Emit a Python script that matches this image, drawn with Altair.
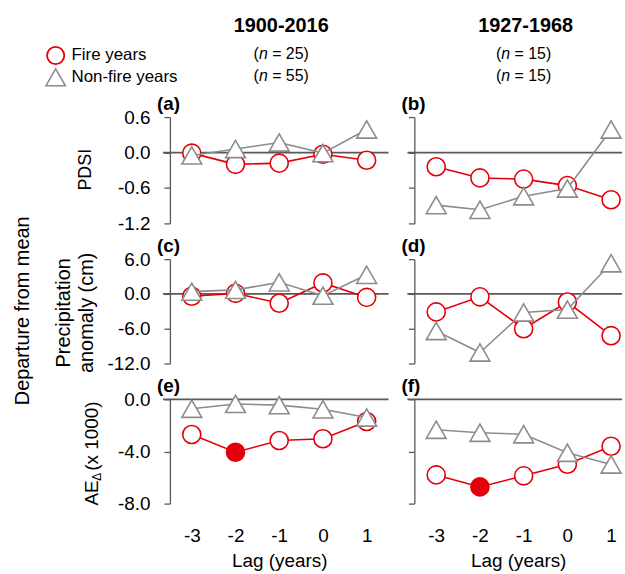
import altair as alt
import pandas as pd

# ---------------- data ----------------
lags = [-3, -2, -1, 0, 1]
periods = ["1900-2016", "1927-1968"]
n_fire = [25, 15]
n_nonfire = [55, 15]
series_names = ["Fire years", "Non-fire years"]
panel_labels = ["(a)", "(b)", "(c)", "(d)", "(e)", "(f)"]

# PDSI
pdsi_fire_all = [-0.01, -0.20, -0.18, -0.03, -0.13]
pdsi_nonfire_all = [-0.05, 0.06, 0.17, -0.01, 0.39]
pdsi_fire_sub = [-0.24, -0.43, -0.45, -0.56, -0.80]
pdsi_nonfire_sub = [-0.89, -0.97, -0.74, -0.61, 0.39]
# Precipitation anomaly (cm)
prec_fire_all = [-0.4, 0.1, -1.6, 1.9, -0.6]
prec_nonfire_all = [0.4, 0.7, 2.0, -0.3, 3.3]
prec_fire_sub = [-3.1, -0.5, -6.0, -1.4, -7.2]
prec_nonfire_sub = [-6.4, -10.1, -3.2, -2.7, 5.3]
# AE delta (x 1000)
ae_fire_all = [-2.7, -4.06, -3.16, -3.03, -1.7]
ae_nonfire_all = [-0.73, -0.36, -0.45, -0.77, -1.4]
ae_fire_sub = [-5.8, -6.72, -5.87, -4.98, -3.6]
ae_nonfire_sub = [-2.34, -2.57, -2.68, -4.1, -5.0]
# significant (filled) fire-year markers
ae_fire_sig = ["open", "solid", "open", "open", "open"]
no_sig = ["open"] * 5

pdsi_ticks = [0.6, 0.0, -0.6, -1.2]
prec_ticks = [6.0, 0.0, -6.0, -12.0]
ae_ticks = [0.0, -4.0, -8.0]

# ---------------- style ----------------
FONT = "Liberation Sans"
RED = "#E3000B"
GRAY = "#8C8C8C"
AXC = "#595959"
MINUS = "\u2212"
FIX = f"replace(datum.label, '{MINUS}', '-')"


def txt(text, x, y, size=17, align="left", baseline="middle", **kw):
    return alt.Chart(pd.DataFrame({"t": [text]})).mark_text(
        align=align, baseline=baseline, fontSize=size, font=FONT, color="black", **kw
    ).encode(text="t:N", x=alt.value(x), y=alt.value(y))


def n_label(cx, y, n):
    size = 16
    w_open, w_n, w_sp = 0.333 * size, 0.556 * size, 0.278 * size
    rest = f"= {n})"
    w_rest = (0.584 + 0.278 + 0.556 * len(str(n)) + 0.333) * size
    start = cx - (w_open + w_n + w_sp + w_rest) / 2
    return [
        txt("(", start, y, size),
        txt("n", start + w_open, y, size, fontStyle="italic"),
        txt(rest, start + w_open + w_n + w_sp, y, size),
    ]


def panel(col, fire, nonfire, sig, ydom, yticks, h, label, bottom, extras=()):
    w = 220 if col == 0 else 209
    xdom = [-3.5, 1.5] if col == 0 else [-3.5, 1.25]
    if bottom:
        xaxis = alt.Axis(values=lags, format="d", labelExpr=FIX, domain=False,
                         ticks=False, labelPadding=23, labelFontSize=19,
                         title="Lag (years)", titleFontSize=19,
                         titleFontWeight="normal", titlePadding=6, grid=False)
    else:
        xaxis = None
    xenc = alt.X("lag:Q", scale=alt.Scale(domain=xdom, nice=False, zero=False), axis=xaxis)
    yaxis = alt.Axis(values=yticks, format=".1f", labelExpr=FIX, labels=(col == 0),
                     ticks=True, tickSize=6, labelPadding=14, labelFontSize=19,
                     title=None, grid=False, domainColor=AXC, tickColor=AXC,
                     domainWidth=1.3, tickWidth=1.3)
    yenc = alt.Y("value:Q", scale=alt.Scale(domain=ydom, nice=False, zero=False), axis=yaxis)

    fdf = pd.DataFrame({"lag": lags, "value": fire, "mk": sig})
    ndf = pd.DataFrame({"lag": lags, "value": nonfire})
    zdf = pd.DataFrame({"value": [0.0]})

    zero = alt.Chart(zdf).mark_rule(color=AXC, strokeWidth=1.8).encode(
        y=yenc, x=alt.value(-7), x2=alt.value(w))
    fline = alt.Chart(fdf).mark_line(color=RED, strokeWidth=1.6).encode(x=xenc, y=yenc)
    fpts = alt.Chart(fdf).mark_point(shape="circle", size=330, filled=True, opacity=1,
                                     stroke=RED, strokeWidth=1.6).encode(
        x=xenc, y=yenc,
        fill=alt.Fill("mk:N", scale=alt.Scale(domain=["open", "solid"], range=["white", RED]),
                      legend=None))
    nline = alt.Chart(ndf).mark_line(color=GRAY, strokeWidth=1.6).encode(x=xenc, y=yenc)
    npts = alt.Chart(ndf).mark_point(shape="triangle-up", size=400, filled=True, opacity=1,
                                     fill="white", stroke=GRAY, strokeWidth=1.6).encode(
        x=xenc, y=yenc)

    lab = txt(label, -13, -13, 19, fontWeight="bold")
    return alt.layer(zero, fline, fpts, nline, npts, lab, *extras).properties(width=w, height=h)


# header items (panel a / b)
hdr_a = [
    txt(periods[0], 112, -92, 20, align="center", fontWeight="bold"),
    *n_label(112, -63, n_fire[0]),
    *n_label(112, -41, n_nonfire[0]),
    alt.Chart(pd.DataFrame({"s": [series_names[0]]})).mark_point(
        shape="circle", size=300, filled=True, fill="white", stroke=RED, strokeWidth=1.8,
        opacity=1).encode(x=alt.value(-115), y=alt.value(-62)),
    alt.Chart(pd.DataFrame({"s": [series_names[1]]})).mark_point(
        shape="triangle-up", size=380, filled=True, fill="white", stroke=GRAY,
        strokeWidth=1.6, opacity=1).encode(x=alt.value(-115), y=alt.value(-40)),
    txt(series_names[0], -99, -62, 17),
    txt(series_names[1], -99, -40, 17),
    txt("PDSI", -84, 53, 18, align="center", angle=270),
]
hdr_b = [
    txt(periods[1], 112, -92, 20, align="center", fontWeight="bold"),
    *n_label(110, -63, n_fire[1]),
    *n_label(110, -41, n_nonfire[1]),
]
titles_c = [
    txt("Precipitation", -107, 54, 20, align="center", angle=270),
    txt("anomaly (cm)", -83, 54, 20, align="center", angle=270),
    txt("Departure from mean", -148, 52, 20, align="center", angle=270),
]
titles_e = [
    txt("AE", -78, 107, 19, angle=270),
    txt("\u0394", -73, 82, 12, angle=270),
    txt("(x 1000)", -78, 72, 19, angle=270),
]

pa = panel(0, pdsi_fire_all, pdsi_nonfire_all, no_sig, [-1.2, 0.6], pdsi_ticks, 107,
           panel_labels[0], False, hdr_a)
pb = panel(1, pdsi_fire_sub, pdsi_nonfire_sub, no_sig, [-1.2, 0.6], pdsi_ticks, 107,
           panel_labels[1], False, hdr_b)
pc = panel(0, prec_fire_all, prec_nonfire_all, no_sig, [-12, 6], prec_ticks, 105,
           panel_labels[2], False, titles_c)
pd_ = panel(1, prec_fire_sub, prec_nonfire_sub, no_sig, [-12, 6], prec_ticks, 105,
            panel_labels[3], False)
pe = panel(0, ae_fire_all, ae_nonfire_all, ae_fire_sig, [-8, 0], ae_ticks, 105,
           panel_labels[4], True, titles_e)
pf = panel(1, ae_fire_sub, ae_nonfire_sub, ae_fire_sig, [-8, 0], ae_ticks, 105,
           panel_labels[5], True)

chart = alt.concat(
    pa, pb, pc, pd_, pe, pf, columns=2,
    spacing=alt.RowColnumber(row=36, column=26), bounds="flush",
).properties(
    padding={"left": 12, "top": 14, "right": 0, "bottom": 0}
).configure_view(stroke=None).configure_axis(
    labelFont=FONT, titleFont=FONT, labelColor="black", titleColor="black",
    domainColor=AXC, tickColor=AXC, grid=False
).configure_text(font=FONT)

chart.save("out.html", embed_options={"renderer": "svg", "actions": False})
